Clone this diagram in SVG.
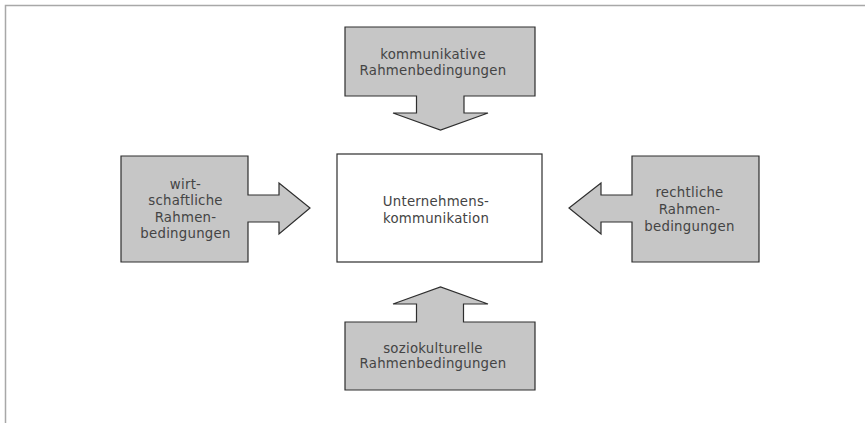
<svg xmlns="http://www.w3.org/2000/svg" width="865" height="423" viewBox="0 0 865 423">
  <style>
    .frame { fill: none; stroke: #a8a8a8; stroke-width: 1.5; }
    .block { fill: #c6c6c6; stroke: #2e2e2e; stroke-width: 1.2; stroke-linejoin: miter; }
    .core { fill: #ffffff; stroke: #2e2e2e; stroke-width: 1.2; }
    .label { font-family: "DejaVu Sans", "Liberation Sans", sans-serif; font-size: 13.3px; letter-spacing: 0.25px; fill: #444444; text-anchor: middle; }
  </style>
  <rect width="865" height="423" fill="#ffffff"/>
  <!-- page frame: top and left rules -->
  <path class="frame" d="M5.5 423 V5.5 H865"/>

  <!-- central node -->
  <g id="unternehmenskommunikation">
    <rect class="core" x="337" y="154" width="205" height="108"/>
    <text class="label" x="436" y="206">Unternehmens-</text>
    <text class="label" x="436" y="223">kommunikation</text>
  </g>

  <!-- surrounding conditions, each block carries its own arrow toward the centre -->
  <g id="connectors">
    <g id="kommunikative">
      <path class="block" d="M345 27 H535 V96 H464 V113 H488 L440.5 130 L393 113 H416.5 V96 H345 Z"/>
      <text class="label" x="433" y="58.5">kommunikative</text>
      <text class="label" x="433" y="74.5">Rahmenbedingungen</text>
    </g>
    <g id="soziokulturelle">
      <path class="block" d="M345 390 H535 V322 H463.5 V304 H488 L440.5 287 L393 304 H416.5 V322 H345 Z"/>
      <text class="label" x="433" y="352.5">soziokulturelle</text>
      <text class="label" x="433" y="367.5">Rahmenbedingungen</text>
    </g>
    <g id="wirtschaftliche">
      <path class="block" d="M121 156 H248 V195 H279 V183 L310 208 L279 234 V222 H248 V262 H121 Z"/>
      <text class="label" x="185.5" y="188.5">wirt-</text>
      <text class="label" x="185.5" y="205">schaftliche</text>
      <text class="label" x="185.5" y="221.5">Rahmen-</text>
      <text class="label" x="185.5" y="238">bedingungen</text>
    </g>
    <g id="rechtliche">
      <path class="block" d="M759 156 H632 V195 H601 V183 L569 208 L601 234 V222 H632 V262 H759 Z"/>
      <text class="label" x="689.5" y="197">rechtliche</text>
      <text class="label" x="689.5" y="213.5">Rahmen-</text>
      <text class="label" x="689.5" y="230.5">bedingungen</text>
    </g>
  </g>
</svg>
